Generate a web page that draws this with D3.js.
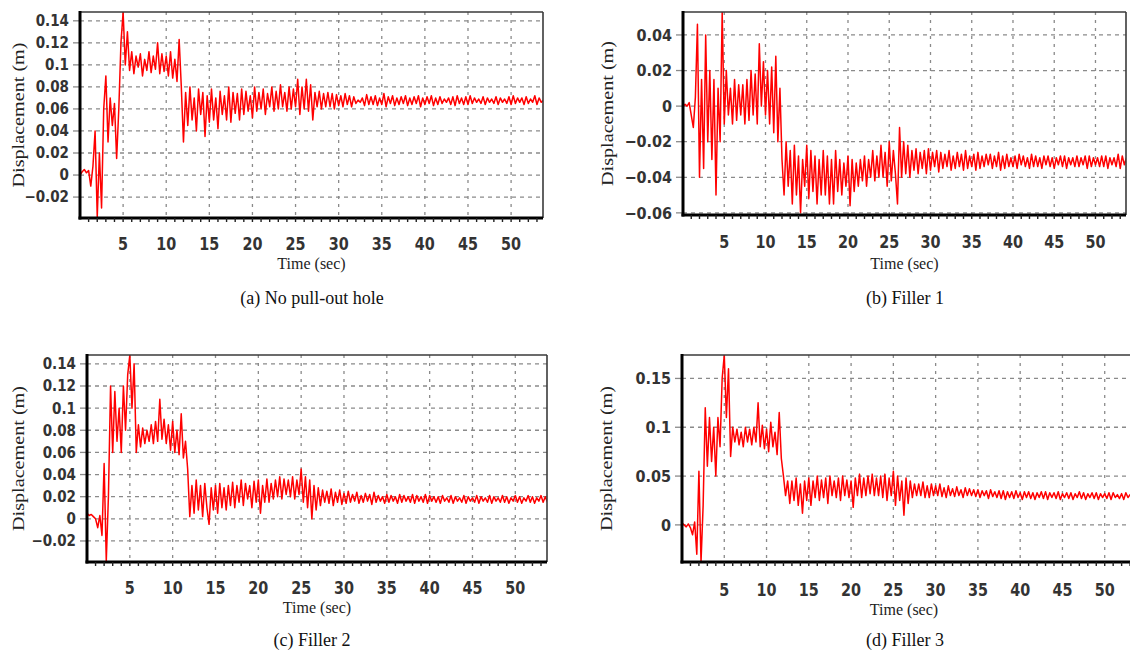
<!DOCTYPE html>
<html><head><meta charset="utf-8">
<script src="https://cdn.jsdelivr.net/npm/d3@7"></script>
<style>body{margin:0;background:#fff}svg{display:block}</style>
</head><body>
<svg id="chart" width="1130" height="658"></svg>
<script>
// sampling interval of the displacement records (s)
const timeStep = 0.25;
const xTickValues = [5,10,15,20,25,30,35,40,45,50];
const yTicksA = [-0.02,0,0.02,0.04,0.06,0.08,0.1,0.12,0.14];
const yTicksB = [-0.06,-0.04,-0.02,0,0.02,0.04];
const yTicksC = [-0.02,0,0.02,0.04,0.06,0.08,0.1,0.12,0.14];
const yTicksD = [0,0.05,0.1,0.15];
const captions = ["(a) No pull-out hole","(b) Filler 1","(c) Filler 2","(d) Filler 3"];
const xTitle = "Time (sec)";
const yTitle = "Displacement (m)";

// (a) No pull-out hole
const dispA = [
0.000,0.003,0.005,0.002, 0.004,-0.010,0.008,0.040, -0.038,0.020,-0.030,0.060, 0.090,0.030,0.070,0.045,
0.065,0.015,0.060,0.120, 0.148,0.100,0.130,0.095, 0.112,0.092,0.108,0.098, 0.110,0.090,0.105,0.095,
0.112,0.093,0.108,0.096, 0.120,0.092,0.110,0.094, 0.108,0.090,0.112,0.088, 0.105,0.085,0.123,0.080,
0.030,0.075,0.045,0.080, 0.050,0.070,0.040,0.078, 0.055,0.075,0.035,0.072, 0.048,0.078,0.050,0.070,
0.042,0.076,0.055,0.072, 0.050,0.080,0.048,0.075, 0.056,0.074,0.050,0.078, 0.055,0.076,0.058,0.072,
0.052,0.080,0.058,0.075, 0.060,0.078,0.055,0.074, 0.062,0.080,0.058,0.076, 0.060,0.082,0.062,0.075,
0.058,0.080,0.060,0.078, 0.062,0.087,0.055,0.080, 0.060,0.087,0.058,0.082, 0.050,0.075,0.062,0.076,
0.060,0.074,0.062,0.075, 0.062,0.074,0.060,0.073, 0.063,0.072,0.062,0.074, 0.064,0.072,0.062,0.071,
0.065,0.068,0.066,0.070, 0.063,0.073,0.064,0.071, 0.064,0.072,0.063,0.070, 0.064,0.074,0.062,0.071,
0.065,0.072,0.063,0.070, 0.064,0.071,0.065,0.072, 0.063,0.070,0.064,0.071, 0.065,0.072,0.062,0.070,
0.064,0.071,0.065,0.072, 0.063,0.070,0.064,0.071, 0.065,0.069,0.066,0.070, 0.064,0.071,0.063,0.072,
0.065,0.070,0.064,0.071, 0.064,0.072,0.065,0.070, 0.066,0.069,0.065,0.071, 0.064,0.070,0.066,0.069,
0.065,0.071,0.064,0.070, 0.066,0.069,0.065,0.071, 0.064,0.072,0.065,0.070, 0.066,0.070,0.064,0.071,
0.065,0.069,0.066,0.072, 0.064,0.070,0.066,0.068];

// (b) Filler 1
const dispB = [
0.000,0.001,0.000,0.002, -0.005,-0.012,0.005,0.046, -0.040,0.015,-0.035,0.040, -0.020,0.020,-0.030,0.015,
-0.050,0.010,-0.020,0.053, -0.010,0.020,-0.005,0.010, -0.010,0.015,-0.008,0.012, -0.005,0.012,-0.010,0.015,
-0.008,0.020,-0.005,0.018, -0.010,0.035,0.000,0.025, -0.005,0.020,-0.010,0.022, -0.015,0.028,-0.020,0.010,
-0.030,-0.050,-0.020,-0.045, -0.025,-0.055,-0.022,-0.050, -0.028,-0.060,-0.030,-0.045, -0.022,-0.052,-0.025,-0.048,
-0.028,-0.055,-0.030,-0.050, -0.025,-0.050,-0.028,-0.055, -0.030,-0.055,-0.025,-0.048, -0.030,-0.050,-0.032,-0.045,
-0.028,-0.056,-0.030,-0.048, -0.032,-0.045,-0.030,-0.042, -0.028,-0.045,-0.030,-0.040, -0.025,-0.042,-0.028,-0.040,
-0.022,-0.040,-0.026,-0.045, -0.020,-0.042,-0.025,-0.038, -0.055,-0.012,-0.040,-0.020, -0.038,-0.022,-0.040,-0.025,
-0.036,-0.024,-0.038,-0.026, -0.035,-0.025,-0.038,-0.024, -0.036,-0.026,-0.034,-0.025, -0.037,-0.026,-0.035,-0.027,
-0.034,-0.025,-0.036,-0.028, -0.035,-0.026,-0.034,-0.027, -0.036,-0.025,-0.035,-0.028, -0.034,-0.027,-0.036,-0.026,
-0.035,-0.028,-0.034,-0.027, -0.033,-0.027,-0.035,-0.028, -0.034,-0.026,-0.036,-0.028, -0.035,-0.027,-0.034,-0.029,
-0.034,-0.028,-0.035,-0.027, -0.033,-0.028,-0.034,-0.029, -0.035,-0.027,-0.034,-0.028, -0.034,-0.029,-0.035,-0.028,
-0.033,-0.028,-0.034,-0.029, -0.035,-0.029,-0.033,-0.028, -0.034,-0.028,-0.035,-0.029, -0.033,-0.029,-0.034,-0.028,
-0.034,-0.029,-0.033,-0.028, -0.035,-0.028,-0.034,-0.029, -0.033,-0.029,-0.034,-0.028, -0.034,-0.028,-0.035,-0.029,
-0.033,-0.029,-0.034,-0.027, -0.035,-0.028,-0.033,-0.029];

// (c) Filler 2
const dispC = [
0.005,0.003,0.004,0.002, 0.000,-0.008,0.003,-0.015, 0.050,-0.038,0.020,0.120, 0.060,0.115,0.070,0.100,
0.060,0.120,0.080,0.130, 0.148,0.100,0.140,0.060, 0.085,0.065,0.082,0.068, 0.080,0.070,0.085,0.068,
0.088,0.070,0.108,0.072, 0.090,0.068,0.085,0.062, 0.088,0.060,0.080,0.058, 0.095,0.055,0.070,0.045,
0.002,0.030,0.005,0.035, 0.008,0.030,0.002,0.032, 0.010,-0.005,0.028,0.008, 0.030,0.005,0.032,0.010,
0.028,0.008,0.030,0.012, 0.033,0.010,0.030,0.015, 0.035,0.012,0.032,0.018, 0.030,0.010,0.034,0.015,
0.035,0.005,0.030,0.015, 0.036,0.015,0.032,0.018, 0.035,0.020,0.038,0.018, 0.036,0.022,0.035,0.020,
0.038,0.018,0.035,0.022, 0.045,0.015,0.038,0.010, 0.035,0.000,0.030,0.008, 0.028,0.012,0.026,0.015,
0.025,0.014,0.027,0.012, 0.024,0.015,0.026,0.013, 0.023,0.014,0.025,0.015, 0.022,0.016,0.024,0.014,
0.021,0.015,0.023,0.016, 0.022,0.013,0.024,0.015, 0.021,0.016,0.020,0.014, 0.022,0.015,0.021,0.016,
0.020,0.014,0.022,0.015, 0.021,0.016,0.020,0.015, 0.022,0.014,0.021,0.016, 0.020,0.015,0.022,0.014,
0.021,0.016,0.020,0.015, 0.020,0.014,0.021,0.016, 0.019,0.015,0.021,0.014, 0.020,0.016,0.019,0.015,
0.021,0.014,0.020,0.016, 0.019,0.015,0.021,0.014, 0.020,0.016,0.019,0.015, 0.021,0.014,0.020,0.016,
0.019,0.015,0.021,0.015, 0.020,0.014,0.019,0.016, 0.021,0.015,0.020,0.014, 0.019,0.016,0.021,0.015,
0.020,0.014,0.019,0.016, 0.021,0.015,0.020,0.015];

// (d) Filler 3
const dispD = [
0.002,0.000,-0.002,0.001, -0.003,-0.010,0.003,-0.030, 0.055,-0.038,0.020,0.120, 0.060,0.110,0.065,0.100,
0.050,0.110,0.080,0.150, 0.174,0.110,0.160,0.070, 0.100,0.085,0.098,0.082, 0.095,0.080,0.100,0.085,
0.098,0.082,0.100,0.085, 0.125,0.080,0.102,0.078, 0.098,0.075,0.105,0.080, 0.095,0.072,0.115,0.068,
0.050,0.030,0.045,0.022, 0.045,0.025,0.048,0.020, 0.042,0.012,0.045,0.025, 0.048,0.020,0.045,0.028,
0.050,0.025,0.046,0.028, 0.048,0.022,0.050,0.030, 0.045,0.028,0.048,0.025, 0.050,0.030,0.046,0.028,
0.045,0.018,0.048,0.030, 0.052,0.028,0.048,0.030, 0.050,0.032,0.052,0.030, 0.048,0.030,0.050,0.028,
0.052,0.025,0.048,0.030, 0.055,0.020,0.050,0.025, 0.045,0.010,0.048,0.022, 0.045,0.028,0.042,0.030,
0.042,0.030,0.044,0.028, 0.040,0.028,0.042,0.030, 0.040,0.030,0.042,0.029, 0.038,0.028,0.040,0.030,
0.037,0.029,0.039,0.030, 0.036,0.028,0.038,0.030, 0.037,0.030,0.036,0.029, 0.036,0.028,0.035,0.030,
0.035,0.027,0.036,0.029, 0.034,0.028,0.035,0.027, 0.035,0.026,0.034,0.028, 0.034,0.027,0.035,0.028,
0.033,0.026,0.034,0.028, 0.034,0.027,0.033,0.026, 0.033,0.028,0.034,0.027, 0.034,0.026,0.033,0.028,
0.033,0.027,0.034,0.026, 0.032,0.028,0.033,0.027, 0.033,0.026,0.032,0.028, 0.034,0.027,0.033,0.026,
0.032,0.028,0.033,0.027, 0.033,0.026,0.032,0.028, 0.032,0.027,0.033,0.026, 0.033,0.028,0.031,0.027,
0.032,0.026,0.033,0.028, 0.031,0.027,0.032,0.029];

const panels = [
  {id:"a", data:dispA, yTicks:yTicksA, yDomain:[-0.039,0.148], box:{l:80,t:12,r:543,b:218},
   xLabY:250, xTitleY:269, yTitleX:18, caption:[312,304], fs:15},
  {id:"b", data:dispB, yTicks:yTicksB, yDomain:[-0.0612,0.0529], box:{l:683,t:12,r:1126,b:215},
   xLabY:248, xTitleY:269, yTitleX:607, caption:[905,304], fs:16},
  {id:"c", data:dispC, yTicks:yTicksC, yDomain:[-0.039,0.148], box:{l:87,t:355,r:547,b:562},
   xLabY:594, xTitleY:613, yTitleX:18, caption:[312,646], fs:15},
  {id:"d", data:dispD, yTicks:yTicksD, yDomain:[-0.038,0.174], box:{l:682,t:355,r:1136,b:562},
   xLabY:596, xTitleY:615, yTitleX:606, caption:[905,646], fs:16}
];
const xDomain = [0, 53.7];

const svg = d3.select("#chart");
const tickFont = "'DejaVu Sans Condensed','DejaVu Sans',sans-serif";
const serif = "'Liberation Serif','Times New Roman',serif";

panels.forEach((p, pi) => {
  const B = p.box;
  const x = d3.scaleLinear().domain(xDomain).range([B.l, B.r]);
  const y = d3.scaleLinear().domain(p.yDomain).range([B.b, B.t]);
  const g = svg.append("g");
  const clipId = "clip" + p.id;
  svg.append("defs").append("clipPath").attr("id", clipId)
    .append("rect").attr("x", B.l).attr("y", B.t).attr("width", B.r - B.l).attr("height", B.b - B.t);

  // grid
  const grid = g.append("g").attr("clip-path", `url(#${clipId})`);
  grid.selectAll(".hg").data(p.yTicks).join("line")
    .attr("x1", B.l).attr("x2", B.r).attr("y1", d => y(d)).attr("y2", d => y(d))
    .attr("stroke", "#8a8a8a").attr("stroke-width", 1.3).attr("stroke-dasharray", "4,4");
  grid.selectAll(".vg").data(xTickValues).join("line")
    .attr("x1", d => x(d)).attr("x2", d => x(d)).attr("y1", B.t).attr("y2", B.b)
    .attr("stroke", "#8a8a8a").attr("stroke-width", 1.3).attr("stroke-dasharray", "3,5");

  // y ticks (gray stubs left of axis)
  g.selectAll(".yt").data(p.yTicks).join("line")
    .attr("x1", B.l - 7).attr("x2", B.l).attr("y1", d => y(d)).attr("y2", d => y(d))
    .attr("stroke", "#8a8a8a").attr("stroke-width", 1.3);

  // series
  const line = d3.line().x((d, i) => x(i * timeStep)).y(d => y(d));
  g.append("path").datum(p.data).attr("clip-path", `url(#${clipId})`)
    .attr("d", line).attr("fill", "none").attr("stroke", "#ff0000").attr("stroke-width", 1.5)
    .attr("stroke-linejoin", "round");

  // frame
  g.append("line").attr("x1", B.l).attr("x2", B.r).attr("y1", B.t).attr("y2", B.t)
    .attr("stroke", "#3a3a3a").attr("stroke-width", 1.6);
  g.append("line").attr("x1", B.r).attr("x2", B.r).attr("y1", B.t).attr("y2", B.b)
    .attr("stroke", "#3a3a3a").attr("stroke-width", 1.6);
  g.append("line").attr("x1", B.l).attr("x2", B.l).attr("y1", B.t - 1).attr("y2", B.b + 1.5)
    .attr("stroke", "#000").attr("stroke-width", 3);
  g.append("line").attr("x1", B.l - 1.5).attr("x2", B.r).attr("y1", B.b).attr("y2", B.b)
    .attr("stroke", "#000").attr("stroke-width", 3);

  // minor ticks under the bottom axis (every second)
  const minor = d3.range(1, 54).filter(v => v <= xDomain[1]);
  g.selectAll(".mt").data(minor).join("line")
    .attr("x1", d => x(d)).attr("x2", d => x(d)).attr("y1", B.b).attr("y2", B.b + 4)
    .attr("stroke", "#222").attr("stroke-width", 1.4);

  // y tick labels
  g.selectAll(".yl").data(p.yTicks).join("text")
    .attr("x", B.l - 11).attr("y", d => y(d)).attr("dy", "0.36em")
    .attr("text-anchor", "end").attr("font-family", tickFont).attr("font-weight", "bold")
    .attr("font-size", p.fs).attr("fill", "#333")
    .text(d => d === 0 ? "0" : (d < 0 ? "\u2212" : "") + String(Math.abs(d)));

  // x tick labels
  g.selectAll(".xl").data(xTickValues).join("text")
    .attr("x", d => x(d)).attr("y", p.xLabY)
    .attr("text-anchor", "middle").attr("font-family", tickFont).attr("font-weight", "bold")
    .attr("font-size", 16).attr("fill", "#333")
    .attr("transform", `translate(0,${p.xLabY}) scale(1,1.15) translate(0,${-p.xLabY})`)
    .text(d => d);

  // axis titles
  const cx = (B.l + Math.min(B.r, 1126)) / 2;
  g.append("text").attr("x", cx).attr("y", p.xTitleY).attr("text-anchor", "middle")
    .attr("font-family", serif).attr("font-size", 16).attr("fill", "#222").text(xTitle);
  const cy = (B.t + B.b) / 2;
  g.append("text").attr("transform", `translate(${p.yTitleX},${cy}) rotate(-90)`)
    .attr("text-anchor", "middle").attr("dy", "0.35em")
    .attr("font-family", serif).attr("font-size", 16).attr("fill", "#222")
    .attr("textLength", 145).attr("lengthAdjust", "spacingAndGlyphs").text(yTitle);

  // caption
  g.append("text").attr("x", p.caption[0]).attr("y", p.caption[1]).attr("text-anchor", "middle")
    .attr("font-family", serif).attr("font-size", 18).attr("fill", "#111").text(captions[pi]);
});
</script>
</body></html>
